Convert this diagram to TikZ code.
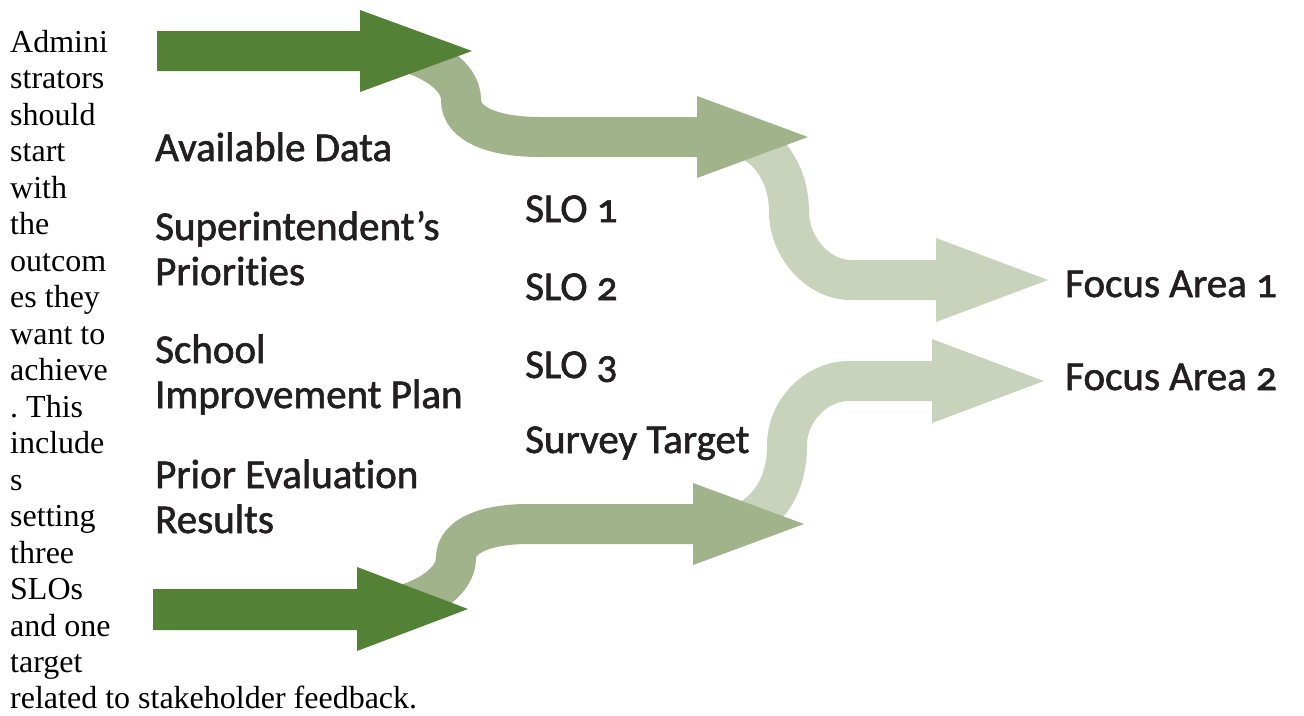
\documentclass[tikz,border=0pt]{standalone}
\usepackage{fontspec}
\setmainfont{Liberation Serif}
\newfontfamily\slofont{Carlito}[Numbers=OldStyle, Ligatures=NoCommon, FakeBold=1.5]
\definecolor{dkgreen}{HTML}{538135}
\definecolor{mdgreen}{HTML}{A0B38B}
\definecolor{ltgreen}{HTML}{C9D3BB}
\definecolor{textdark}{HTML}{231F20}
\newcommand\myrows[1]{\vtop{\halign{##\hfil\cr#1\crcr}}}
\tikzset{
  label/.style={anchor=base west, inner sep=0pt, text=textdark,
    font=\slofont\fontsize{41}{45}\selectfont},
  bodytext/.style={anchor=base west, inner sep=0pt, text=black,
    font=\fontsize{32}{36.5}\selectfont\frenchspacing},
  band/.style={line width=40pt, line cap=butt, draw=#1},
  headfill/.style={fill=#1, draw=none}
}
\begin{document}
\begin{tikzpicture}[x=1pt,y=-1pt]
\fill[white] (0,0) rectangle (1304,715);
\path[use as bounding box] (0,0) rectangle (1304,715);

% light bands (to focus areas)
\draw[band=ltgreen] (745,138) .. controls (770,148) and (789,175) .. (789,212)
   .. controls (789,246) and (817,280) .. (851,280) -- (938,280);
\fill[headfill=ltgreen] (936,238) -- (1048,280) -- (936,322) -- cycle;
\draw[band=ltgreen] (735,528) .. controls (770,512) and (787,485) .. (787,445)
   .. controls (787,412) and (815,381) .. (849,381) -- (934,381);
\fill[headfill=ltgreen] (932,339) -- (1044,381) -- (932,423) -- cycle;

% medium bands (to SLOs)
\draw[band=mdgreen] (400,50) .. controls (430,58) and (461,75) .. (461,100)
   .. controls (461,125) and (495,137) .. (540,137) -- (700,137);
\fill[headfill=mdgreen] (697,96) -- (808,137) -- (697,178) -- cycle;
\draw[band=mdgreen] (400,606) .. controls (430,598) and (456,580) .. (456,558)
   .. controls (456,535) and (488,524) .. (528,524) -- (695,524);
\fill[headfill=mdgreen] (693,483) -- (804,524) -- (693,565) -- cycle;

% dark input arrows
\fill[dkgreen] (157,31) -- (360,31) -- (360,10) -- (472,51) -- (360,92)
   -- (360,71) -- (157,71) -- cycle;
\fill[dkgreen] (153,589) -- (357,589) -- (357,567) -- (468,609) -- (357,651)
   -- (357,630) -- (153,630) -- cycle;

% left body text
\node[bodytext] (intro) at (10,52) {\myrows{Admini\cr strators\cr should\cr start\cr with\cr the\cr outcom\cr es they\cr want to\cr achieve\cr . This\cr include\cr s\cr setting\cr three\cr SLOs\cr and one\cr target\cr related to stakeholder feedback.}};

% inputs
\node[label] (avail) at (155,161) {Available Data};
\node[label] (super) at (155,240) {\myrows{Superintendent’s\cr Priorities}};
\node[label] (sip) at (155,363) {\myrows{School\cr Improvement Plan}};
\node[label] (prior) at (155,488) {\myrows{Prior Evaluation\cr Results}};

% SLOs
\node[label] (slo1) at (525,222) {SLO 1};
\node[label] (slo2) at (525,300) {SLO 2};
\node[label] (slo3) at (525,378) {SLO 3};
\node[label] (survey) at (525,453) {Survey Target};

% focus areas
\node[label] (fa1) at (1065,297) {Focus Area 1};
\node[label] (fa2) at (1065,390) {Focus Area 2};
\end{tikzpicture}
\end{document}
